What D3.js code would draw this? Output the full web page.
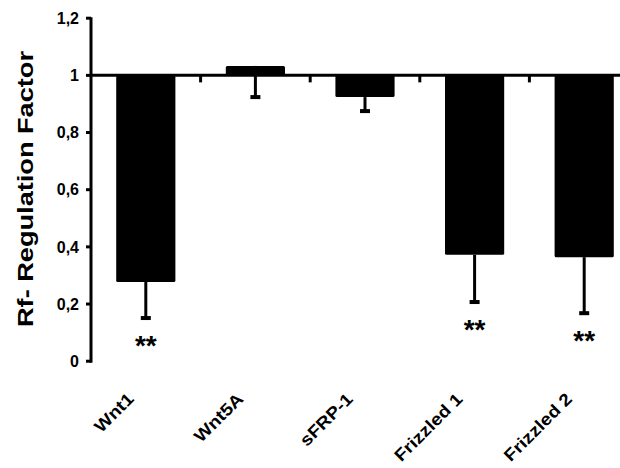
<!DOCTYPE html>
<html>
<head>
<meta charset="utf-8">
<script src="https://cdn.jsdelivr.net/npm/d3@7"></script>
<style>
  body { margin: 0; background: #fff; }
  text { font-family: "Liberation Sans", Arial, sans-serif; font-weight: 700; fill: #000; }
</style>
</head>
<body>
<div id="chart"></div>
<script>
// data
const genes = ["Wnt1", "Wnt5A", "sFRP-1", "Frizzled 1", "Frizzled 2"];
const values = [0.277, 1.033, 0.924, 0.372, 0.364];
const errors = [0.126, 0.109, 0.049, 0.165, 0.196];
const marks = ["**", "", "", "**", "**"];
const yTicks = [0, 0.2, 0.4, 0.6, 0.8, 1, 1.2];

const data = genes.map((g, i) => ({ gene: g, value: values[i], err: errors[i], mark: marks[i] }));

const width = 620, height = 468;
const axisX = 91;

const svg = d3.select("#chart").append("svg")
    .attr("width", width)
    .attr("height", height);

//scales
const yScale = d3.scaleLinear()
    .domain([0, 1.2])
    .range([361.2, 18.2]);

const step = 109.6;
const xScale = d3.scaleBand()
    .domain(genes)
    .range([axisX, axisX + step * genes.length])
    .paddingInner(0.46)
    .paddingOuter(0.23);

const base = yScale(1);
const mid = d => xScale(d) + xScale.bandwidth() / 2;

// bars (hang from 1)
svg.selectAll("rect.bar")
    .data(data)
    .join("rect")
    .attr("class", "bar")
    .attr("x", d => xScale(d.gene))
    .attr("width", xScale.bandwidth())
    .attr("y", d => Math.min(yScale(d.value), base))
    .attr("height", d => Math.abs(yScale(d.value) - base))
    .attr("rx", 1.5)
    .attr("fill", "#000");

// error bars, pointing down
const errG = svg.selectAll("g.err")
    .data(data)
    .join("g")
    .attr("class", "err");

errG.append("line")
    .attr("x1", d => mid(d.gene))
    .attr("x2", d => mid(d.gene))
    .attr("y1", d => yScale(d.value))
    .attr("y2", d => yScale(d.value - d.err))
    .attr("stroke", "#000")
    .attr("stroke-width", 3);

errG.append("line")
    .attr("x1", d => mid(d.gene) - 5)
    .attr("x2", d => mid(d.gene) + 5)
    .attr("y1", d => yScale(d.value - d.err))
    .attr("y2", d => yScale(d.value - d.err))
    .attr("stroke", "#000")
    .attr("stroke-width", 4);

// significance stars
svg.selectAll("text.star")
    .data(data)
    .join("text")
    .attr("class", "star")
    .attr("x", d => mid(d.gene))
    .attr("y", d => yScale(d.value - d.err) + 37)
    .attr("text-anchor", "middle")
    .attr("font-size", 28)
    .text(d => d.mark);

// horizontal axis at 1
svg.append("line")
    .attr("x1", axisX)
    .attr("x2", width)
    .attr("y1", base)
    .attr("y2", base)
    .attr("stroke", "#000")
    .attr("stroke-width", 3);

svg.selectAll("line.xtick")
    .data(genes.slice(1))
    .join("line")
    .attr("class", "xtick")
    .attr("x1", d => xScale(d) - xScale.step() * 0.23)
    .attr("x2", d => xScale(d) - xScale.step() * 0.23)
    .attr("y1", base)
    .attr("y2", base + 7)
    .attr("stroke", "#000")
    .attr("stroke-width", 3);

// y axis
svg.append("line")
    .attr("x1", axisX)
    .attr("x2", axisX)
    .attr("y1", yScale(1.2) - 1)
    .attr("y2", yScale(0) + 1.5)
    .attr("stroke", "#000")
    .attr("stroke-width", 3);

svg.selectAll("line.ytick")
    .data(yTicks)
    .join("line")
    .attr("class", "ytick")
    .attr("x1", axisX - 5)
    .attr("x2", axisX)
    .attr("y1", d => yScale(d))
    .attr("y2", d => yScale(d))
    .attr("stroke", "#000")
    .attr("stroke-width", 3);

svg.selectAll("text.ylab")
    .data(yTicks)
    .join("text")
    .attr("class", "ylab")
    .attr("x", 79)
    .attr("y", d => yScale(d))
    .attr("dy", "0.36em")
    .attr("text-anchor", "end")
    .attr("font-size", 16)
    .text(d => String(d).replace(".", ","));

// category labels, glyphs widened along the baseline like the original
svg.selectAll("text.xlab")
    .data(genes)
    .join("text")
    .attr("class", "xlab")
    .attr("text-anchor", "end")
    .attr("font-size", 17)
    .attr("transform", d => `translate(${mid(d) - 11},${400}) rotate(-45) scale(1.14,1)`)
    .text(d => d);

// axis title
svg.append("text")
    .attr("transform", "translate(33,189) rotate(-90)")
    .attr("text-anchor", "middle")
    .attr("font-size", 22)
    .attr("textLength", 276)
    .attr("lengthAdjust", "spacingAndGlyphs")
    .text("Rf- Regulation Factor");
</script>
</body>
</html>
